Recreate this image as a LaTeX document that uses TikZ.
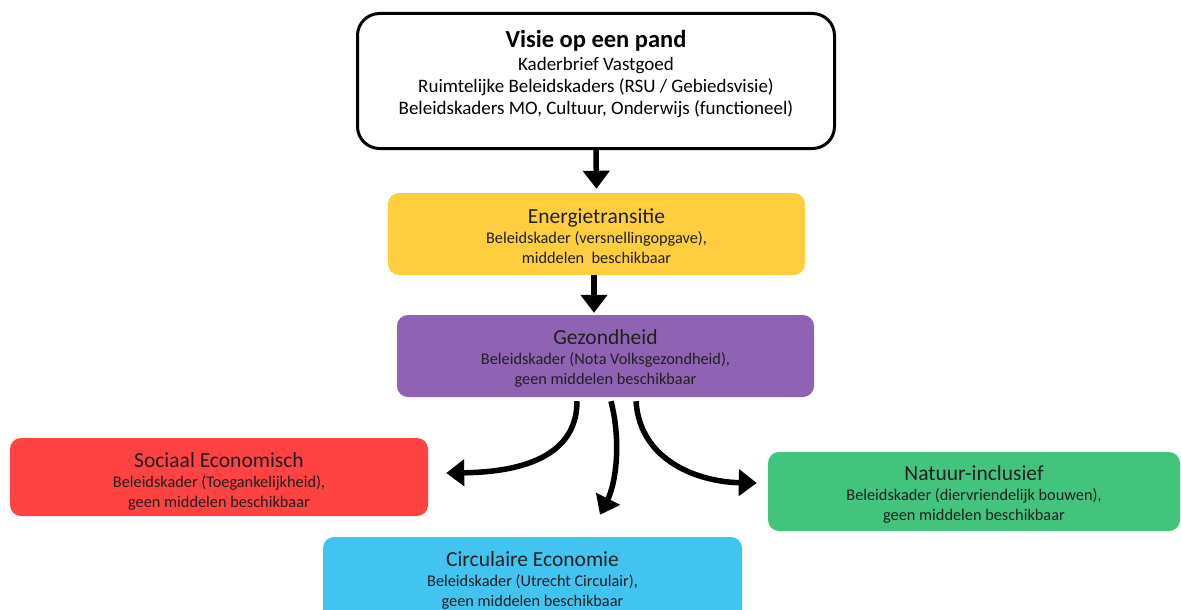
\documentclass[tikz,border=0pt]{standalone}
\usepackage{fontspec}
\setmainfont{Carlito}
\usetikzlibrary{arrows.meta}
\definecolor{cyellow}{RGB}{255,206,62}
\definecolor{cpurple}{RGB}{144,98,180}
\definecolor{cred}{RGB}{255,66,66}
\definecolor{cblue}{RGB}{66,196,240}
\definecolor{cgreen}{RGB}{66,196,124}
\tikzset{
  cbox/.style={rectangle, rounded corners=11pt, draw=none, minimum width=#1, inner sep=0pt},
  topbox/.style={rectangle, rounded corners=22pt, draw=black, line width=3pt, minimum width=477pt, minimum height=135pt},
  txt/.style={align=center, inner sep=0pt, font=\fontsize{16.3}{19.5}\selectfont, text=black!88},
  bigarrow/.style={line width=5.5pt, -{Triangle[width=26pt,length=18pt]}},
}
\newcommand{\ttl}[1]{{\fontsize{21.5}{22}\selectfont #1}}
\begin{document}
\begin{tikzpicture}[x=1pt,y=-1pt]
\useasboundingbox (0,0) rectangle (1181,610);
\clip (0,0) rectangle (1181,610);
% top box
\node[topbox] (visie) at (596,81) {};
\node[align=center, inner sep=0pt, font=\fontsize{19}{22}\selectfont] (visietxt) at (596,74)
 {{\fontsize{24.5}{24}\selectfont\bfseries Visie op een pand}\\[1pt]
  Kaderbrief Vastgoed\\
  Ruimtelijke Beleidskaders (RSU / Gebiedsvisie)\\
  Beleidskaders MO, Cultuur, Onderwijs (functioneel)};
% colored boxes
\node[cbox=417pt, minimum height=82pt, fill=cyellow] (energie) at (596.5,234) {};
\node[txt] (energietxt) at (596.5,236) {\ttl{Energietransitie}\\[1pt]Beleidskader (versnellingopgave),\\middelen\ \ beschikbaar};
\node[cbox=417pt, minimum height=82pt, fill=cpurple] (gez) at (605.5,356) {};
\node[txt] (geztxt) at (605.5,358) {\ttl{Gezondheid}\\[1pt]Beleidskader (Nota Volksgezondheid),\\geen middelen beschikbaar};
\node[cbox=418pt, minimum height=78pt, fill=cred] (soc) at (219,477) {};
\node[txt] (soctxt) at (219,481) {\ttl{Sociaal Economisch}\\[1pt]Beleidskader (Toegankelijkheid),\\geen middelen beschikbaar};
\node[cbox=419pt, minimum height=88pt, fill=cblue] (circ) at (532.5,581) {};
\node[txt] (circtxt) at (532.5,580) {\ttl{Circulaire Economie}\\[1pt]Beleidskader (Utrecht Circulair),\\geen middelen beschikbaar};
\node[cbox=412pt, minimum height=79pt, fill=cgreen] (nat) at (974,491.5) {};
\node[txt] (nattxt) at (974,494) {\ttl{Natuur-inclusief}\\[1pt]Beleidskader (diervriendelijk bouwen),\\geen middelen beschikbaar};
% arrows
\draw[bigarrow] (visie.south) -- ([yshift=4pt]energie.north);
\draw[bigarrow] ([xshift=-2.5pt]energie.south) -- ([xshift=-11.5pt,yshift=2pt]gez.north);
\draw[bigarrow] ([xshift=-28.5pt,yshift=-4pt]gez.south) .. controls (577,452) and (530,472) .. ([xshift=18pt,yshift=4pt]soc.east);
\draw[bigarrow] ([xshift=5.5pt,yshift=-4pt]gez.south) .. controls (622,445) and (615,485) .. ([xshift=67.5pt,yshift=22pt]circ.north);
\draw[bigarrow] ([xshift=30.5pt,yshift=-4pt]gez.south) .. controls (640,462) and (700,482) .. ([xshift=-11pt,yshift=8.5pt]nat.west);
\end{tikzpicture}
\end{document}
